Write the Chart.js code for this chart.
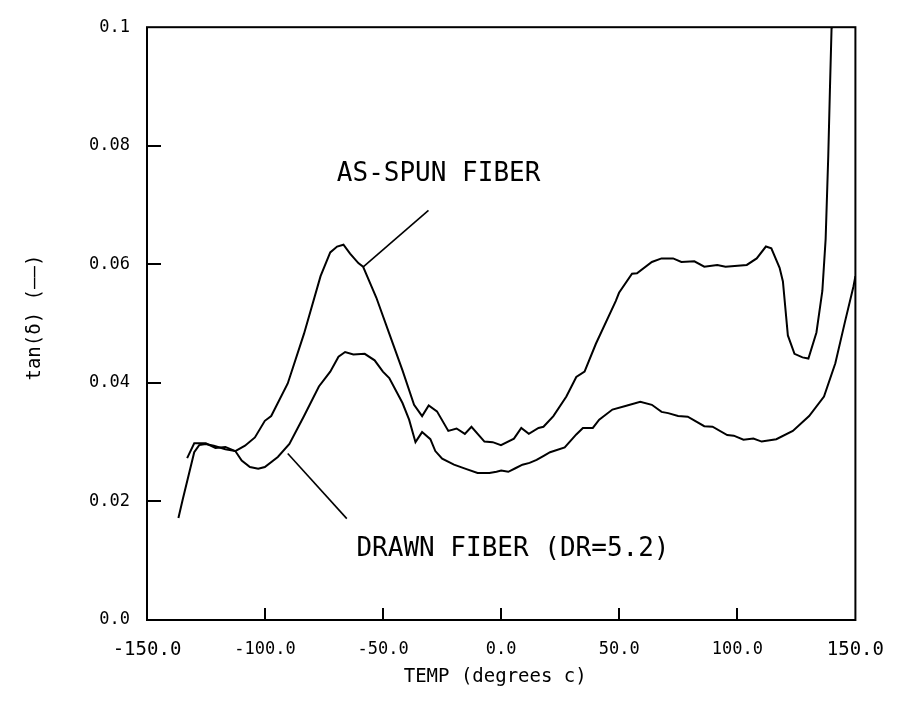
<!DOCTYPE html>
<html>
<head>
<meta charset="utf-8">
<script src="https://cdn.jsdelivr.net/npm/chart.js@4/dist/chart.umd.min.js"></script>
<style>
  html, body { margin: 0; padding: 0; background: #fff; }
  #wrap { width: 903px; height: 704px; }
</style>
</head>
<body>
<div id="wrap"><canvas id="c" width="903" height="704"></canvas></div>
<script>
// ---- data ----
const asSpunTemp = [-133.0,-130.0,-125.1,-121.0,-116.8,-112.6,-108.5,-104.3,-100.1,-97.4,-90.4,-83.5,-76.5,-72.4,-69.5,-66.8,-64.0,-60.5,-58.5,-52.9,-47.4,-41.8,-36.9,-33.5,-30.7,-27.2,-22.4,-18.9,-15.4,-12.6,-7.1,-3.6,-0.1,5.4,8.5,11.7,15.8,17.9,22.1,27.6,31.8,35.3,40.1,48.5,49.9,55.4,57.5,63.8,67.9,72.8,76.3,81.8,86.0,91.5,95.0,104.0,108.2,112.1,114.4,117.9,119.3,121.4,124.2,127.6,130.1,133.5,136.0,137.4,138.5,139.2,139.9,140.2];
const asSpunTan  = [0.0273,0.0298,0.0298,0.0290,0.0292,0.0285,0.0294,0.0308,0.0336,0.0344,0.0399,0.0483,0.0580,0.0620,0.0630,0.0633,0.0618,0.0602,0.0596,0.0544,0.0483,0.0421,0.0363,0.0344,0.0362,0.0352,0.0319,0.0323,0.0314,0.0326,0.0301,0.0300,0.0295,0.0306,0.0324,0.0314,0.0324,0.0326,0.0344,0.0377,0.0410,0.0419,0.0466,0.0538,0.0552,0.0584,0.0585,0.0604,0.0610,0.0610,0.0604,0.0605,0.0596,0.0599,0.0596,0.0599,0.0610,0.0630,0.0627,0.0594,0.0571,0.0480,0.0449,0.0443,0.0441,0.0485,0.0555,0.0643,0.0782,0.0893,0.0998,0.1000];

const drawnTemp = [-136.7,-134.9,-130.0,-127.9,-125.1,-121.7,-116.8,-112.6,-109.9,-106.4,-102.9,-100.1,-94.6,-89.7,-83.5,-77.2,-72.4,-68.9,-66.1,-62.6,-57.8,-53.6,-50.1,-47.4,-41.8,-39.0,-36.3,-33.5,-30.0,-27.9,-25.0,-20.0,-15.0,-10.0,-5.0,-2.0,0.0,3.0,6.0,9.0,12.0,15.0,18.0,20.7,26.9,31.8,34.6,38.8,41.5,47.1,52.6,58.9,63.8,67.9,70.7,74.9,79.0,86.0,89.5,95.7,98.5,102.6,106.8,110.3,116.5,123.5,130.4,136.7,141.5,145.7,149.2,150.0];
const drawnTan  = [0.0172,0.0203,0.0283,0.0295,0.0297,0.0294,0.0288,0.0285,0.0269,0.0258,0.0255,0.0258,0.0275,0.0297,0.0344,0.0394,0.0419,0.0444,0.0452,0.0448,0.0449,0.0438,0.0419,0.0408,0.0366,0.0338,0.0300,0.0317,0.0305,0.0285,0.0272,0.0262,0.0255,0.0248,0.0248,0.0250,0.0252,0.0250,0.0256,0.0262,0.0265,0.0270,0.0277,0.0283,0.0291,0.0313,0.0324,0.0324,0.0338,0.0355,0.0361,0.0368,0.0363,0.0351,0.0349,0.0344,0.0343,0.0327,0.0326,0.0312,0.0311,0.0304,0.0306,0.0301,0.0305,0.0319,0.0344,0.0377,0.0433,0.0505,0.0563,0.0580];

const xTickValues = [-150, -100, -50, 0, 50, 100, 150];
const xTickLabels = ["-150.0", "-100.0", "-50.0", "0.0", "50.0", "100.0", "150.0"];
const yTickValues = [0, 0.02, 0.04, 0.06, 0.08, 0.1];
const yTickLabels = ["0.0", "0.02", "0.04", "0.06", "0.08", "0.1"];

const seriesNames = ["AS-SPUN FIBER", "DRAWN FIBER (DR=5.2)"];
const xTitle = "TEMP (degrees c)";
const yTitle = "tan(\u03B4) (\u2014\u2014)";

// annotation anchors in data units: [text x, text y], leader line [x1,y1,x2,y2]
const asSpunLabelAt = [-69.6, 0.0752];
const asSpunLeader = [-30.8, 0.0691, -58.3, 0.0596];
const drawnLabelAt = [-61.3, 0.0120];
const drawnLeader = [-90.4, 0.0281, -65.4, 0.0171];

const FONT = "'DejaVu Sans Mono', monospace";

function pts(xs, ys) { return xs.map((x, i) => ({ x: x, y: ys[i] })); }

const decor = {
  id: 'decor',
  afterDatasetsDraw(chart) {
    const ctx = chart.ctx;
    const a = chart.chartArea;
    const xs = chart.scales.x, ys = chart.scales.y;
    ctx.save();
    ctx.strokeStyle = '#000';
    ctx.fillStyle = '#000';
    ctx.lineWidth = 2;
    // frame
    ctx.strokeRect(a.left, a.top, a.right - a.left, a.bottom - a.top);
    // inward ticks
    ctx.beginPath();
    yTickValues.slice(1, -1).forEach(v => {
      const py = Math.round(ys.getPixelForValue(v));
      ctx.moveTo(a.left, py); ctx.lineTo(a.left + 14, py);
    });
    xTickValues.slice(1, -1).forEach(v => {
      const px = Math.round(xs.getPixelForValue(v));
      ctx.moveTo(px, a.bottom); ctx.lineTo(px, a.bottom - 12);
    });
    ctx.stroke();
    // leader lines
    ctx.lineWidth = 1.6;
    [asSpunLeader, drawnLeader].forEach(l => {
      ctx.beginPath();
      ctx.moveTo(xs.getPixelForValue(l[0]), ys.getPixelForValue(l[1]));
      ctx.lineTo(xs.getPixelForValue(l[2]), ys.getPixelForValue(l[3]));
      ctx.stroke();
    });
    // annotation text
    ctx.font = "26px " + FONT;
    ctx.textAlign = 'left';
    ctx.textBaseline = 'middle';
    ctx.fillText(seriesNames[0], xs.getPixelForValue(asSpunLabelAt[0]), ys.getPixelForValue(asSpunLabelAt[1]));
    ctx.fillText(seriesNames[1], xs.getPixelForValue(drawnLabelAt[0]), ys.getPixelForValue(drawnLabelAt[1]));
    // axis titles
    ctx.font = "19px " + FONT;
    ctx.textAlign = 'center';
    ctx.fillText(xTitle, (a.left + a.right) / 2 - 6, 677);
    ctx.translate(35, (a.top + a.bottom) / 2 - 6);
    ctx.rotate(-Math.PI / 2);
    ctx.fillText(yTitle, 0, 0);
    ctx.restore();
  }
};

new Chart(document.getElementById('c'), {
  type: 'scatter',
  data: {
    datasets: [
      { label: seriesNames[0], data: pts(asSpunTemp, asSpunTan), showLine: true, borderColor: '#000', backgroundColor: '#000', borderWidth: 2, pointRadius: 0, tension: 0 },
      { label: seriesNames[1], data: pts(drawnTemp, drawnTan), showLine: true, borderColor: '#000', backgroundColor: '#000', borderWidth: 2, pointRadius: 0, tension: 0 }
    ]
  },
  options: {
    responsive: false,
    animation: false,
    layout: { padding: { top: 19, right: 36, bottom: 0, left: 0 } },
    plugins: { legend: { display: false }, tooltip: { enabled: false } },
    scales: {
      x: {
        type: 'linear', min: -150, max: 150,
        afterBuildTicks: s => { s.ticks = xTickValues.map(v => ({ value: v })); },
        afterFit: s => { s.height = 84; },
        grid: { display: false, drawTicks: false },
        border: { display: false },
        ticks: { color: '#000', padding: 19, maxRotation: 0, autoSkip: false,
                 font: c => ({ family: FONT, size: (c.index === 0 || c.index === xTickValues.length - 1) ? 19 : 17 }),
                 callback: (v, i) => xTickLabels[i] }
      },
      y: {
        type: 'linear', min: 0, max: 0.1,
        afterBuildTicks: s => { s.ticks = yTickValues.map(v => ({ value: v })); },
        afterFit: s => { s.width = 147; },
        grid: { display: false, drawTicks: false },
        border: { display: false },
        ticks: { color: '#000', font: { family: FONT, size: 17 }, padding: 17, autoSkip: false,
                 callback: (v, i) => yTickLabels[i] }
      }
    }
  },
  plugins: [decor]
});
</script>
</body>
</html>
